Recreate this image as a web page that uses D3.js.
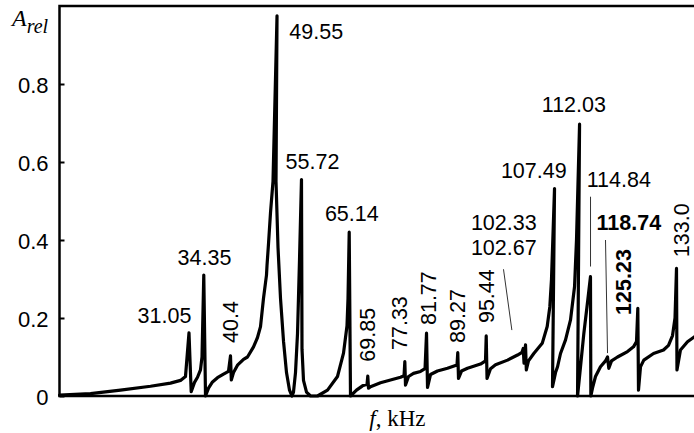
<!DOCTYPE html>
<html>
<head>
<meta charset="utf-8">
<script src="https://cdn.jsdelivr.net/npm/d3@7"></script>
<style>
  body { margin: 0; background: #fff; }
  svg { display: block; }
</style>
</head>
<body>
<div id="chart"></div>
<script>
// spectrum trace: frequency (kHz) and relative amplitude
const freq = [
  4.0, 10.48, 16.74, 23.01, 27.19, 29.28, 30.32, 31.05, 31.51, 32.2,
  32.83, 33.45, 33.77, 34.14, 34.5, 35.13, 35.96, 37.0, 38.26, 39.3,
  39.72, 39.89, 40.35, 41.18, 42.44, 43.27, 44.53, 45.36, 45.99, 46.61,
  47.03, 47.24, 47.35, 47.66, 48.08, 48.6, 49.44, 49.23, 49.65, 50.17,
  50.8, 51.42, 52.05, 52.57, 52.88, 53.3, 53.72, 54.14, 54.55, 54.66,
  54.97, 55.6, 56.43, 57.9, 59.99, 62.07, 63.33, 64.06, 64.27, 64.52,
  64.79, 66.04, 67.3, 68.24, 68.4, 68.55, 68.97, 71.06, 73.15, 75.24,
  75.97, 76.14, 76.28, 76.91, 77.95, 79.41, 80.36, 80.67, 80.88, 81.5,
  82.96, 85.05, 86.72, 87.04, 87.2, 87.35, 87.98, 89.23, 91.95, 92.99,
  93.14, 93.31, 94.04, 95.09, 97.59, 99.68, 100.62, 100.87, 101.04, 101.35,
  101.52, 101.97, 103.08, 104.84, 105.88, 106.43, 106.78, 107.41, 106.99, 107.62,
  108.04, 108.66, 109.71, 110.75, 111.59, 112.0, 112.64, 112.22, 112.84, 113.53,
  114.36, 114.92, 115.0, 115.34, 115.97, 117.01, 118.06, 118.48, 118.75, 119.32,
  120.57, 122.66, 123.91, 124.54, 124.81, 124.95, 125.37, 126.06, 128.09, 130.18,
  131.22, 132.06, 132.58, 132.89, 132.99, 133.72, 135.19, 136.65, 138.95
];
const amp = [
  0.002, 0.006, 0.015, 0.025, 0.033, 0.040, 0.050, 0.162, 0.011, 0.035,
  0.048, 0.067, 0.10, 0.31, 0.0, 0.02, 0.036, 0.047, 0.056, 0.063,
  0.103, 0.041, 0.06, 0.079, 0.094, 0.10, 0.126, 0.15, 0.178, 0.25,
  0.29, 0.31, 0.335, 0.39, 0.47, 0.55, 0.975, 0.55, 0.38, 0.25,
  0.14, 0.06, 0.015, 0.0, 0.01, 0.06, 0.16, 0.35, 0.555, 0.12,
  0.04, 0.01, 0.0, 0.0, 0.015, 0.05, 0.11, 0.18, 0.25, 0.42,
  0.0, 0.015, 0.026, 0.03, 0.051, 0.02, 0.024, 0.034, 0.041, 0.048,
  0.052, 0.088, 0.028, 0.05, 0.058, 0.063, 0.07, 0.161, 0.022, 0.055,
  0.064, 0.071, 0.078, 0.08, 0.111, 0.045, 0.064, 0.071, 0.082, 0.09,
  0.154, 0.045, 0.07, 0.08, 0.092, 0.105, 0.112, 0.122, 0.084, 0.131,
  0.067, 0.09, 0.109, 0.135, 0.178, 0.229, 0.3, 0.532, 0.024, 0.06,
  0.075, 0.109, 0.144, 0.195, 0.28, 0.4, 0.697, 0.0, 0.075, 0.16,
  0.246, 0.306, 0.0, 0.02, 0.05, 0.075, 0.09, 0.10, 0.071, 0.09,
  0.10, 0.114, 0.126, 0.14, 0.225, 0.015, 0.075, 0.092, 0.109, 0.118,
  0.13, 0.155, 0.2, 0.327, 0.067, 0.118, 0.139, 0.152, 0.165
];

const yTicks = [0, 0.2, 0.4, 0.6, 0.8];

// peak labels: text, anchor frequency, anchor amplitude
const flatLabels = ["31.05", "34.35", "49.55", "55.72", "65.14", "102.33", "102.67", "107.49", "112.03", "114.84", "118.74"];
const flatF      = [25.93, 34.29, 57.64, 56.85, 65.06, 96.81, 96.81, 103.08, 111.45, 120.84, 122.93];
const flatA      = [0.187, 0.336, 0.915, 0.583, 0.45, 0.426, 0.362, 0.559, 0.729, 0.537, 0.426];
const flatBold   = ["118.74"];

const vertLabels = ["40.4", "69.85", "77.33", "81.77", "89.27", "95.44", "125.23", "133.0"];
const vertF      = [41.39, 70.01, 76.49, 82.55, 88.81, 94.87, 123.49, 135.4];
const vertA      = [0.136, 0.088, 0.118, 0.182, 0.136, 0.187, 0.208, 0.356];
const vertBold   = ["125.23"];

// leader lines [f1, a1, f2, a2]
const leaders = [
  [96.75, 0.325, 98.5, 0.169],
  [114.93, 0.511, 114.93, 0.332],
  [118.06, 0.40, 118.48, 0.11]
];

const W = 694, H = 433;
const margin = { left: 59.5, top: 6, bottom: 37 };
const plotW = 136 * 4.787;          // right edge runs past the window
const plotH = H - margin.top - margin.bottom;

const svg = d3.select("#chart").append("svg")
  .attr("width", W)
  .attr("height", H);

const g = svg.append("g")
  .attr("transform", `translate(${margin.left},${margin.top})`);

const x = d3.scaleLinear().domain([4, 140]).range([0, plotW]);
const y = d3.scaleLinear().domain([0, 1]).range([plotH, 0]);

const sansFont = "'Liberation Sans', Arial, sans-serif";
const serifFont = "'Liberation Serif', 'Times New Roman', serif";

// y axis
const yAxis = g.append("g")
  .call(d3.axisLeft(y)
    .tickValues(yTicks)
    .tickSizeInner(-5)
    .tickSizeOuter(0)
    .tickPadding(11)
    .tickFormat(d => d === 0 ? "0" : d3.format(".1f")(d)));
yAxis.select(".domain").remove();
yAxis.selectAll(".tick line").attr("stroke", "#000").attr("stroke-width", 2);
yAxis.selectAll(".tick text")
  .attr("fill", "#000")
  .attr("dy", "0.4em")
  .style("font-family", sansFont)
  .style("font-size", "22px");

// trace
const line = d3.line()
  .x((d, i) => x(freq[i]))
  .y((d, i) => y(amp[i]));

g.append("path")
  .datum(amp)
  .attr("d", line)
  .attr("fill", "none")
  .attr("stroke", "#000")
  .attr("stroke-width", 3.2)
  .attr("stroke-linejoin", "round")
  .attr("stroke-linecap", "round");

// frame
g.append("rect")
  .attr("x", 0).attr("y", 0)
  .attr("width", plotW).attr("height", plotH)
  .attr("fill", "none")
  .attr("stroke", "#000")
  .attr("stroke-width", 2.5);

// leader lines
g.selectAll(".leader")
  .data(leaders)
  .join("line")
  .attr("x1", d => x(d[0])).attr("y1", d => y(d[1]))
  .attr("x2", d => x(d[2])).attr("y2", d => y(d[3]))
  .attr("stroke", "#333")
  .attr("stroke-width", 1);

// horizontal peak labels
g.selectAll(".flat")
  .data(flatLabels)
  .join("text")
  .attr("x", (d, i) => x(flatF[i]))
  .attr("y", (d, i) => y(flatA[i]))
  .attr("text-anchor", "middle")
  .style("font-family", sansFont)
  .style("font-size", "21.5px")
  .style("font-weight", d => flatBold.includes(d) ? "bold" : "normal")
  .text(d => d);

// vertical peak labels
g.selectAll(".vert")
  .data(vertLabels)
  .join("text")
  .attr("transform", (d, i) => `translate(${x(vertF[i])},${y(vertA[i])}) rotate(-90)`)
  .attr("text-anchor", "start")
  .style("font-family", sansFont)
  .style("font-size", "21.5px")
  .style("font-weight", d => vertBold.includes(d) ? "bold" : "normal")
  .text(d => d);

// axis titles
const yTitle = svg.append("text")
  .attr("x", 12)
  .attr("y", 26)
  .style("font-family", serifFont)
  .style("font-style", "italic");
yTitle.append("tspan").style("font-size", "24px").text("A");
yTitle.append("tspan").style("font-size", "20px").attr("dy", 7).text("rel");

const xTitle = svg.append("text")
  .attr("x", margin.left + x(74.6))
  .attr("y", 426)
  .attr("text-anchor", "middle")
  .style("font-family", serifFont)
  .style("font-size", "23px");
xTitle.append("tspan").style("font-style", "italic").text("f");
xTitle.append("tspan").text(", kHz");
</script>
</body>
</html>
